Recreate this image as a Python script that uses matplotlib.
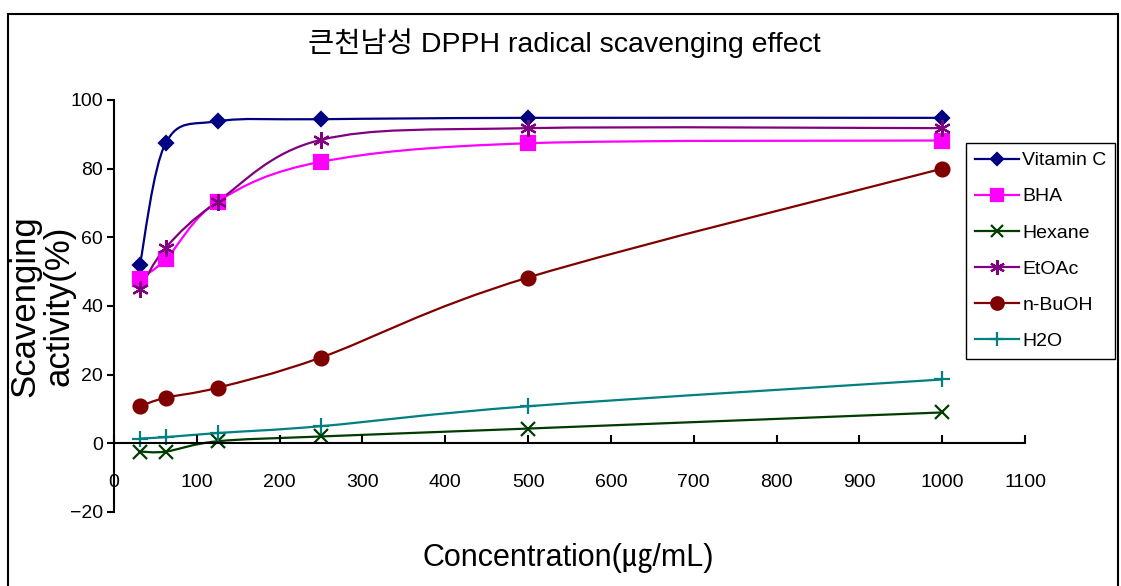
import matplotlib
matplotlib.use('Agg')
import matplotlib.pyplot as plt
import numpy as np
from matplotlib.path import Path
from matplotlib.patches import PathPatch, Rectangle
from matplotlib.lines import Line2D

plt.rcParams['font.family'] = ['Liberation Sans', 'Noto Sans CJK KR', 'DejaVu Sans']
plt.rcParams['axes.unicode_minus'] = True

# data
conc = [31.25, 62.5, 125, 250, 500, 1000]
names = ['Vitamin C', 'BHA', 'Hexane', 'EtOAc', 'n-BuOH', 'H2O']
vitamin_c = [52.0, 87.5, 93.8, 94.4, 94.8, 94.8]
bha = [48.0, 53.6, 70.4, 82.0, 87.4, 88.2]
hexane = [-2.4, -2.4, 0.6, 2.0, 4.3, 9.0]
etoac = [45.0, 57.0, 70.4, 88.4, 91.8, 91.8]
n_buoh = [10.8, 13.3, 16.2, 25.0, 48.3, 80.0]
h2o = [1.4, 1.8, 3.0, 5.0, 10.8, 18.6]
series = [vitamin_c, bha, hexane, etoac, n_buoh, h2o]

colors = ['#000080', '#FF00FF', '#003B00', '#800080', '#800000', '#008080']
markers = ['D', 's', 'x', (6, 2, 0), 'o', '+']
msizes = [7, 9.5, 10, 12, 10, 11]


def smooth_path(x, y):
    # excel-like smoothed line as cubic bezier segments
    pts = np.column_stack([x, y]).astype(float)
    n = len(pts)
    verts = [pts[0]]
    codes = [Path.MOVETO]
    for i in range(n - 1):
        p0 = pts[i - 1] if i > 0 else pts[i]
        p1 = pts[i]
        p2 = pts[i + 1]
        p3 = pts[i + 2] if i + 2 < n else pts[i + 1]
        verts += [p1 + (p2 - p0) / 6, p2 - (p3 - p1) / 6, p2]
        codes += [Path.CURVE4] * 3
    return Path(verts, codes)


fig = plt.figure(figsize=(11.21, 5.86), dpi=100)
ax = fig.add_axes([114 / 1121, 1 - 512 / 586, 911 / 1121, 412 / 586])

for vals, c, m, ms in zip(series, colors, markers, msizes):
    ax.add_patch(PathPatch(smooth_path(conc, vals), facecolor='none',
                           edgecolor=c, lw=1.6, transform=ax.transData))
    ax.plot(conc, vals, linestyle='none', marker=m, color=c, markersize=ms,
            markeredgewidth=1.6, clip_on=False)

ax.set_xlim(0, 1100)
ax.set_ylim(-20, 100)
ax.set_xticks(range(0, 1101, 100))
ax.set_yticks(range(-20, 101, 20))
ax.spines['top'].set_visible(False)
ax.spines['right'].set_visible(False)
ax.spines['bottom'].set_position(('data', 0))
ax.spines['bottom'].set_linewidth(1.5)
ax.spines['left'].set_linewidth(1.5)
ax.tick_params(axis='x', direction='in', length=6, width=1.5, pad=22, labelsize=14)
ax.tick_params(axis='y', direction='out', length=5, width=1.5, pad=3, labelsize=14)
ax.patch.set_alpha(0)

fig.text(564 / 1121, 1 - 43 / 586, '큰천남성 DPPH radical scavenging effect',
         ha='center', va='center', fontsize=20.5)
fig.text(568 / 1121, 1 - 558 / 586, 'Concentration(㎍/mL)',
         ha='center', va='center', fontsize=22)
fig.text(42 / 1121, 1 - 306 / 586, 'Scavenging\nactivity(%)', rotation=90,
         ha='center', va='center', fontsize=25, linespacing=1.05)

handles = [Line2D([], [], color=c, marker=m, markersize=ms * 0.9, lw=1.6,
                  markeredgewidth=1.6)
           for c, m, ms in zip(colors, markers, msizes)]
leg = fig.legend(handles, names, loc='upper left',
                 bbox_to_anchor=(966 / 1121, 1 - 143 / 586), fontsize=14,
                 fancybox=False, edgecolor='black', framealpha=1,
                 handlelength=2.25, handletextpad=0.2, labelspacing=0.95,
                 borderpad=0.45, borderaxespad=0)
leg.get_frame().set_linewidth(1.0)

fig.patches.append(Rectangle((8 / 1121, -0.02), 1110 / 1121, 1.02 - 14 / 586,
                             transform=fig.transFigure, fill=False,
                             edgecolor='black', lw=1.5))

fig.savefig('out.png', dpi=100)
